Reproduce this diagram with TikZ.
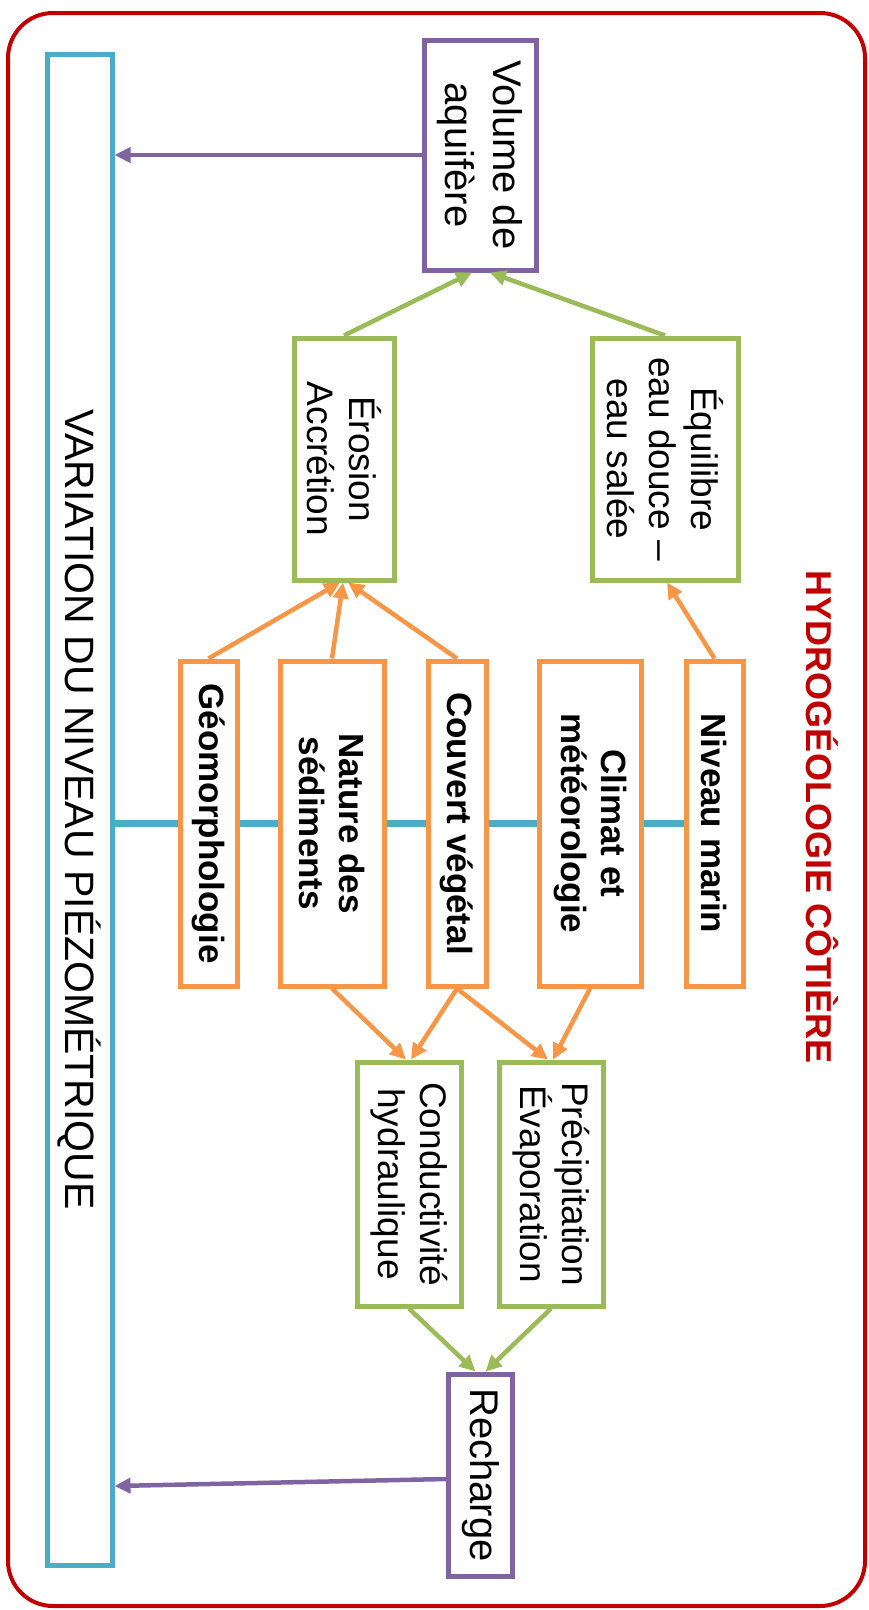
\documentclass[tikz,border=0pt]{standalone}
\usepackage{fontspec}
\setmainfont{Liberation Sans}
\usetikzlibrary{arrows.meta,calc,backgrounds}
\definecolor{framered}{HTML}{C00000}
\definecolor{boxaqua}{HTML}{4BACC6}
\definecolor{boxpurple}{HTML}{8064A2}
\definecolor{boxgreen}{HTML}{9BBB59}
\definecolor{boxorange}{HTML}{F79646}
\tikzset{
  vbox/.style={draw,line width=5pt,fill=white,rotate=-90,align=center,inner sep=0pt,
    font=\fontsize{37}{42}\selectfont},
  purplebox/.style={vbox,draw=boxpurple,font=\fontsize{40}{48}\selectfont},
  greenbox/.style={vbox,draw=boxgreen},
  orangebox/.style={vbox,draw=boxorange,font=\fontsize{35}{40}\selectfont\bfseries},
  link/.style={line width=4.5pt,-{Triangle[length=16pt,width=15pt]}},
}
\begin{document}
\begin{tikzpicture}[x=1pt,y=-1pt]
\useasboundingbox (0,0) rectangle (868,1610);
\draw[framered,line width=4pt,rounded corners=45pt] (8,13) rectangle (865,1606);
\node[rotate=-90,text=framered,font=\fontsize{36}{42}\selectfont\bfseries] (title) at (822,817) {HYDROGÉOLOGIE CÔTIÈRE};
% level bar
\node[vbox,draw=boxaqua,minimum width=1511pt,minimum height=65pt,font=\fontsize{41}{46}\selectfont] (var) at (79.5,809.5) {VARIATION DU NIVEAU PIÉZOMÉTRIQUE};
% purple and green
\node[purplebox,minimum width=230pt,minimum height=112pt] (vol) at (480,155) {Volume de\\aquifère};
\node[greenbox,minimum width=242pt,minimum height=100pt] (ero) at (344,459) {Érosion\\Accrétion};
\node[greenbox,minimum width=242pt,minimum height=146pt] (equ) at (665,459) {Équilibre\\eau douce –\\eau salée};
% factors
\node[orangebox,minimum width=325pt,minimum height=57pt] (geo) at (208.5,823.5) {Géomorphologie};
\node[orangebox,minimum width=325pt,minimum height=104pt] (nat) at (332,823.5) {Nature des\\sédiments};
\node[orangebox,minimum width=325pt,minimum height=58pt] (cou) at (457,823.5) {Couvert végétal};
\node[orangebox,minimum width=325pt,minimum height=102pt] (cli) at (590,823.5) {Climat et\\météorologie};
\node[orangebox,minimum width=325pt,minimum height=57pt] (niv) at (714.5,823.5) {Niveau marin};
\node[greenbox,minimum width=244pt,minimum height=104pt] (cond) at (409,1184) {Conductivité\\hydraulique};
\node[greenbox,minimum width=244pt,minimum height=104pt] (pre) at (551,1184) {Précipitation\\Évaporation};
\node[purplebox,minimum width=202pt,minimum height=64pt] (rech) at (480.5,1475) {Recharge};
\begin{scope}[on background layer]
\draw[boxaqua,line width=7pt] (niv.south) -- (var.north |- niv.south);
\end{scope}
\draw[link,boxpurple] (vol.south) -- (vol.south -| var.north);
\draw[link,boxgreen] (ero.west) -- ($(vol.east)+(-8,0)$);
\draw[link,boxgreen] (equ.west) -- ($(vol.east)+(10,0)$);
\draw[link,boxorange] (geo.west) -- ($(ero.east)+(-4,0)$);
\draw[link,boxorange] (nat.west) -- ($(ero.east)+(-1,0)$);
\draw[link,boxorange] (cou.west) -- ($(ero.east)+(4,0)$);
\draw[link,boxorange] (niv.west) -- ($(equ.east)+(2,0)$);
\draw[link,boxorange] (nat.east) -- ($(cond.west)+(-3,0)$);
\draw[link,boxorange] (cou.east) -- ($(cond.west)+(2,0)$);
\draw[link,boxorange] (cou.east) -- ($(pre.west)+(-3,0)$);
\draw[link,boxorange] (cli.east) -- ($(pre.west)+(2,0)$);
\draw[link,boxgreen] (cond.east) -- ($(rech.west)+(-5,0)$);
\draw[link,boxgreen] (pre.east) -- ($(rech.west)+(5,0)$);
\draw[link,boxpurple] ($(rech.south)+(0,4)$) -- ($(var.north |- rech.south)+(0,11)$);
\end{tikzpicture}
\end{document}
